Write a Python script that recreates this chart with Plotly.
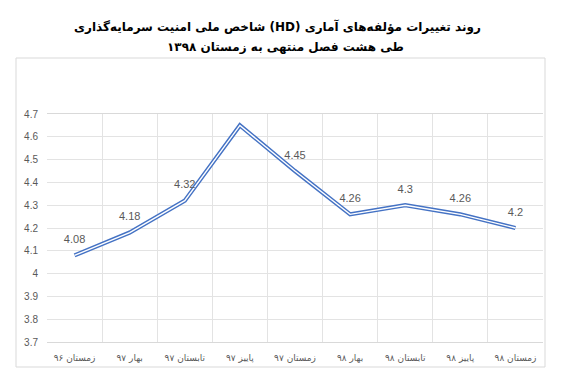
import plotly.graph_objects as go

categories = ["زمستان ۹۶", "بهار ۹۷", "تابستان ۹۷", "پاییز ۹۷", "زمستان ۹۷",
              "بهار ۹۸", "تابستان ۹۸", "پاییز ۹۸", "زمستان ۹۸"]
values = [4.08, 4.18, 4.32, 4.65, 4.45, 4.26, 4.30, 4.26, 4.20]
value_labels = ["4.08", "4.18", "4.32", "4.65", "4.45", "4.26", "4.3", "4.26", "4.2"]
title_line1 = "روند تغییرات مؤلفه‌های آماری (HD) شاخص ملی امنیت سرمایه‌گذاری"
title_line2 = "طی هشت فصل منتهی به زمستان ۱۳۹۸"
y_range = [3.7, 4.7]

# page body has an 8px margin; work in figure coordinates = screen - 8
OFF = 8
W, H = 561 - OFF, 384 - OFF
L, R, T, B = 47 - OFF, 18, 114 - OFF, 42
pw, ph = W - L - R, H - T - B

def px_x(x):
    return (x - OFF - L) / pw

def px_y(y):
    return (H - B - (y - OFF)) / ph

RLE, PDF = "\u202B", "\u202C"

fig = go.Figure()
fig.add_trace(go.Scatter(x=categories, y=values, mode="lines",
                         line=dict(color="#4472C4", width=4.2),
                         hoverinfo="skip", showlegend=False))
fig.add_trace(go.Scatter(x=categories, y=values, mode="lines",
                         line=dict(color="white", width=1.4),
                         hoverinfo="skip", showlegend=False))
fig.add_trace(go.Scatter(x=categories, y=values, mode="markers+text",
                         text=value_labels, textposition="top center",
                         marker=dict(size=14, opacity=0),
                         textfont=dict(family="Liberation Sans, Arial", size=11, color="#595959"),
                         hoverinfo="skip", showlegend=False))

fig.add_shape(type="rect", xref="paper", yref="paper",
              x0=px_x(16), x1=px_x(545), y0=px_y(367), y1=px_y(58),
              line=dict(color="#d9d9d9", width=1), fillcolor="rgba(0,0,0,0)", layer="below")

fig.add_annotation(text="<b>" + RLE + title_line1 + PDF + "</b>", xref="paper", yref="paper",
                   x=px_x(277), y=px_y(27), showarrow=False, xanchor="center", yanchor="middle",
                   font=dict(family="DejaVu Sans", size=12, color="#000000"))
fig.add_annotation(text="<b>" + RLE + title_line2 + PDF + "</b>", xref="paper", yref="paper",
                   x=px_x(285), y=px_y(47), showarrow=False, xanchor="center", yanchor="middle",
                   font=dict(family="DejaVu Sans", size=12, color="#000000"))

fig.update_layout(
    width=W, height=H, margin=dict(l=L, r=R, t=T, b=B),
    paper_bgcolor="white", plot_bgcolor="white",
    showlegend=False,
)
fig.update_xaxes(type="category", showgrid=True, gridcolor="#e3e3e3", gridwidth=1,
                 tickson="boundaries", ticks="", ticklabelstandoff=7,
                 showline=True, linecolor="#d9d9d9",
                 mirror=True, range=[-0.5, len(categories) - 0.5],
                 tickfont=dict(family="DejaVu Sans", size=9, color="#595959"))
fig.update_yaxes(range=y_range, dtick=0.1, showgrid=True, gridcolor="#e3e3e3", gridwidth=1,
                 zeroline=False, showline=False, ticks="outside", ticklen=6,
                 tickcolor="rgba(0,0,0,0)",
                 tickfont=dict(family="Liberation Sans, Arial", size=10, color="#595959"))

fig.write_html("out.html")
